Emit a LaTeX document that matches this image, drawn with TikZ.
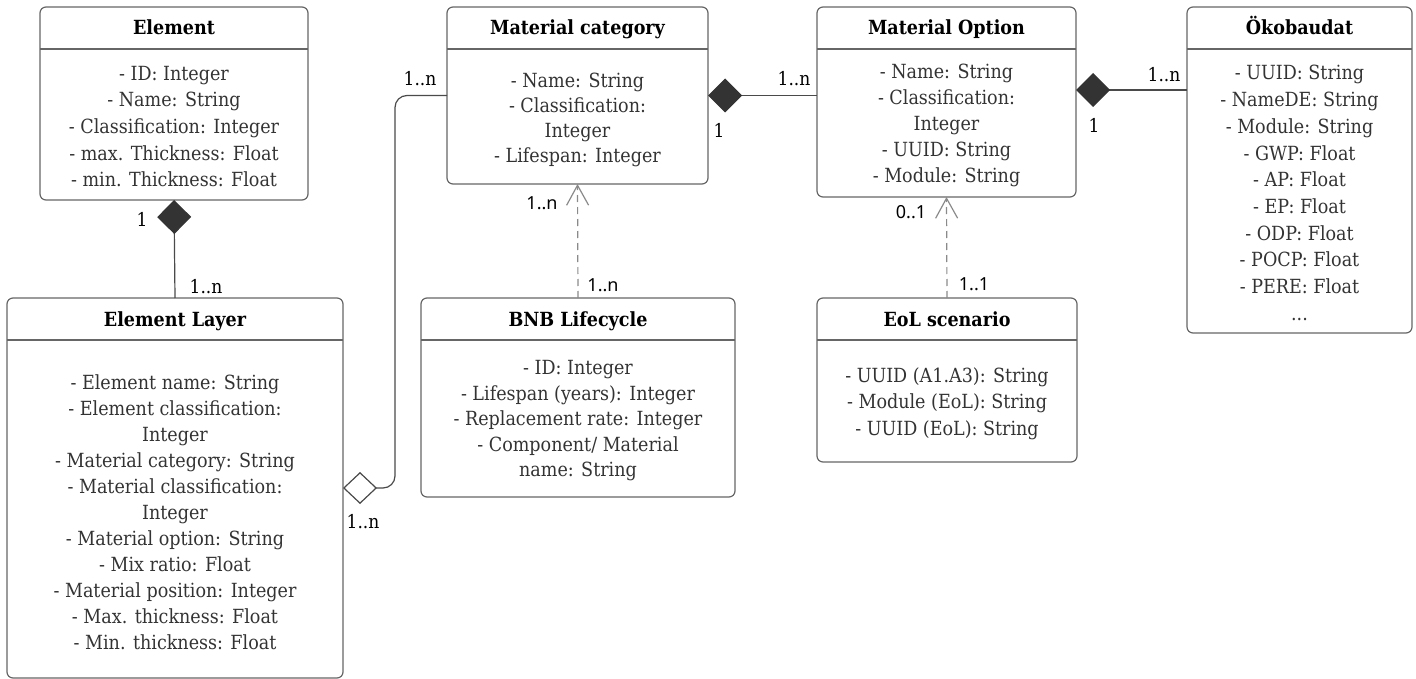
\documentclass[tikz,border=0pt]{standalone}
\usepackage{fontspec}
\setmainfont{DejaVu Serif Condensed}
\newfontfamily\lblsans{Noto Sans}
\usetikzlibrary{arrows.meta}
\definecolor{boxgray}{HTML}{666666}
\definecolor{attrgray}{HTML}{333333}
\definecolor{linegray}{HTML}{4A4A4A}
\definecolor{dashgray}{HTML}{8A8A8A}
\definecolor{dia}{HTML}{333333}
\tikzset{
  classbox/.style={draw=boxgray, line width=1.2pt, rounded corners=6pt, inner sep=0pt, outer sep=0pt, fill=white},
  hdr/.style={draw=boxgray, line width=1.2pt},
  titletext/.style={font=\fontsize{19.5}{22}\selectfont\bfseries, text=black, inner sep=0pt, anchor=base},
  attrtext/.style={font=\fontsize{19.5}{#1}\selectfont, text=attrgray, align=center, inner sep=0pt},
  mult/.style={font=\fontsize{19}{22}\selectfont, text=black, inner sep=0pt},
  multsans/.style={font=\lblsans\fontsize{18}{22}\selectfont, text=black, inner sep=0pt},
  assoc/.style={draw=linegray, line width=1.2pt},
  comp/.style={assoc, {Diamond[length=34pt,width=34pt,fill=dia,color=dia]}-},
  aggr/.style={assoc, {Diamond[length=34pt,width=32pt,open,fill=white,color=linegray]}-},
  dep/.style={draw=dashgray, line width=1.2pt, dash pattern=on 7pt off 5pt, -{Straight Barb[length=20pt,width=22pt,color=dashgray]}},
}
\begin{document}
\begin{tikzpicture}[x=1pt,y=-1pt]
\useasboundingbox (0,0) rectangle (1416,679);

% Element
\node[classbox, minimum width=268pt, minimum height=193pt] (elem) at (174,103.5) {};
\draw[hdr] (40,49) -- (308,49);
\node[titletext] (elemT) at (174,35) {Element};
\node[attrtext=26.7pt] (elemA) at (174,126.5) {- ID: Integer\\- Name: String\\- Classification: Integer\\- max. Thickness: Float\\- min. Thickness: Float};

% Material category
\node[classbox, minimum width=261pt, minimum height=177pt] (mc) at (577.5,95.5) {};
\draw[hdr] (447,49) -- (708,49);
\node[titletext] (mcT) at (577.5,35) {Material category};
\node[attrtext=25pt] (mcA) at (577.5,119.5) {- Name: String\\- Classification:\\Integer\\- Lifespan: Integer};

% Material Option
\node[classbox, minimum width=259pt, minimum height=190pt] (mo) at (946.5,102) {};
\draw[hdr] (817,49) -- (1076,49);
\node[titletext] (moT) at (946.5,35) {Material Option};
\node[attrtext=26pt] (moA) at (946.5,125) {- Name: String\\- Classification:\\Integer\\- UUID: String\\- Module: String};

% Oekobaudat
\node[classbox, minimum width=225pt, minimum height=326pt] (oko) at (1299.5,170) {};
\draw[hdr] (1187,49) -- (1412,49);
\node[titletext] (okoT) at (1299.5,35) {Ökobaudat};
\node[attrtext=26.7pt] (okoA) at (1299.5,193) {- UUID: String\\- NameDE: String\\- Module: String\\- GWP: Float\\- AP: Float\\- EP: Float\\- ODP: Float\\- POCP: Float\\- PERE: Float\\...};

% Element Layer
\node[classbox, minimum width=336pt, minimum height=380pt] (layer) at (175,488) {};
\draw[hdr] (7,340) -- (343,340);
\node[titletext] (layerT) at (175,326) {Element Layer};
\node[attrtext=26pt] (layerA) at (175,512) {- Element name: String\\- Element classification:\\Integer\\- Material category: String\\- Material classification:\\Integer\\- Material option: String\\- Mix ratio: Float\\- Material position: Integer\\- Max. thickness: Float\\- Min. thickness: Float};

% BNB Lifecycle
\node[classbox, minimum width=314pt, minimum height=199pt] (bnb) at (578,397.5) {};
\draw[hdr] (421,340) -- (735,340);
\node[titletext] (bnbT) at (578,326) {BNB Lifecycle};
\node[attrtext=25.5pt] (bnbA) at (578,421) {- ID: Integer\\- Lifespan (years): Integer\\- Replacement rate: Integer\\- Component/ Material\\name: String};

% EoL scenario
\node[classbox, minimum width=260pt, minimum height=164pt] (eol) at (947,380) {};
\draw[hdr] (817,340) -- (1077,340);
\node[titletext] (eolT) at (947,326) {EoL scenario};
\node[attrtext=26.5pt] (eolA) at (947,403.5) {- UUID (A1.A3): String\\- Module (EoL): String\\- UUID (EoL): String};

% Connectors
\draw[comp] (elem.south) -- (layer.north);
\node[mult] (m1) at (142,219) {1};
\node[mult] (m2) at (206,287) {1..n};

\draw[comp] (mc.east) -- (mc.east -| mo.west);
\node[mult] (m3) at (794,79) {1..n};
\node[mult] (m4) at (719,130) {1};

\coordinate (moR) at ([yshift=12pt]mo.east);
\draw[comp] (moR) -- (moR -| oko.west);
\node[mult] (m5) at (1164,75) {1..n};
\node[mult] (m6) at (1094,125) {1};

\draw[aggr, rounded corners=12pt] (layer.east) -- ++(52,0) |- (mc.west);
\node[mult] (m7) at (420,79) {1..n};
\node[mult] (m8) at (363,522) {1..n};

\draw[dep] (bnb.north) -- (mc.south);
\node[multsans] (m9) at (542,203) {1..n};
\node[multsans] (m10) at (603,285) {1..n};

\draw[dep] (eol.north) -- (mo.south);
\node[multsans] (m11) at (911,212) {0..1};
\node[multsans] (m12) at (974,284) {1..1};
\end{tikzpicture}
\end{document}
